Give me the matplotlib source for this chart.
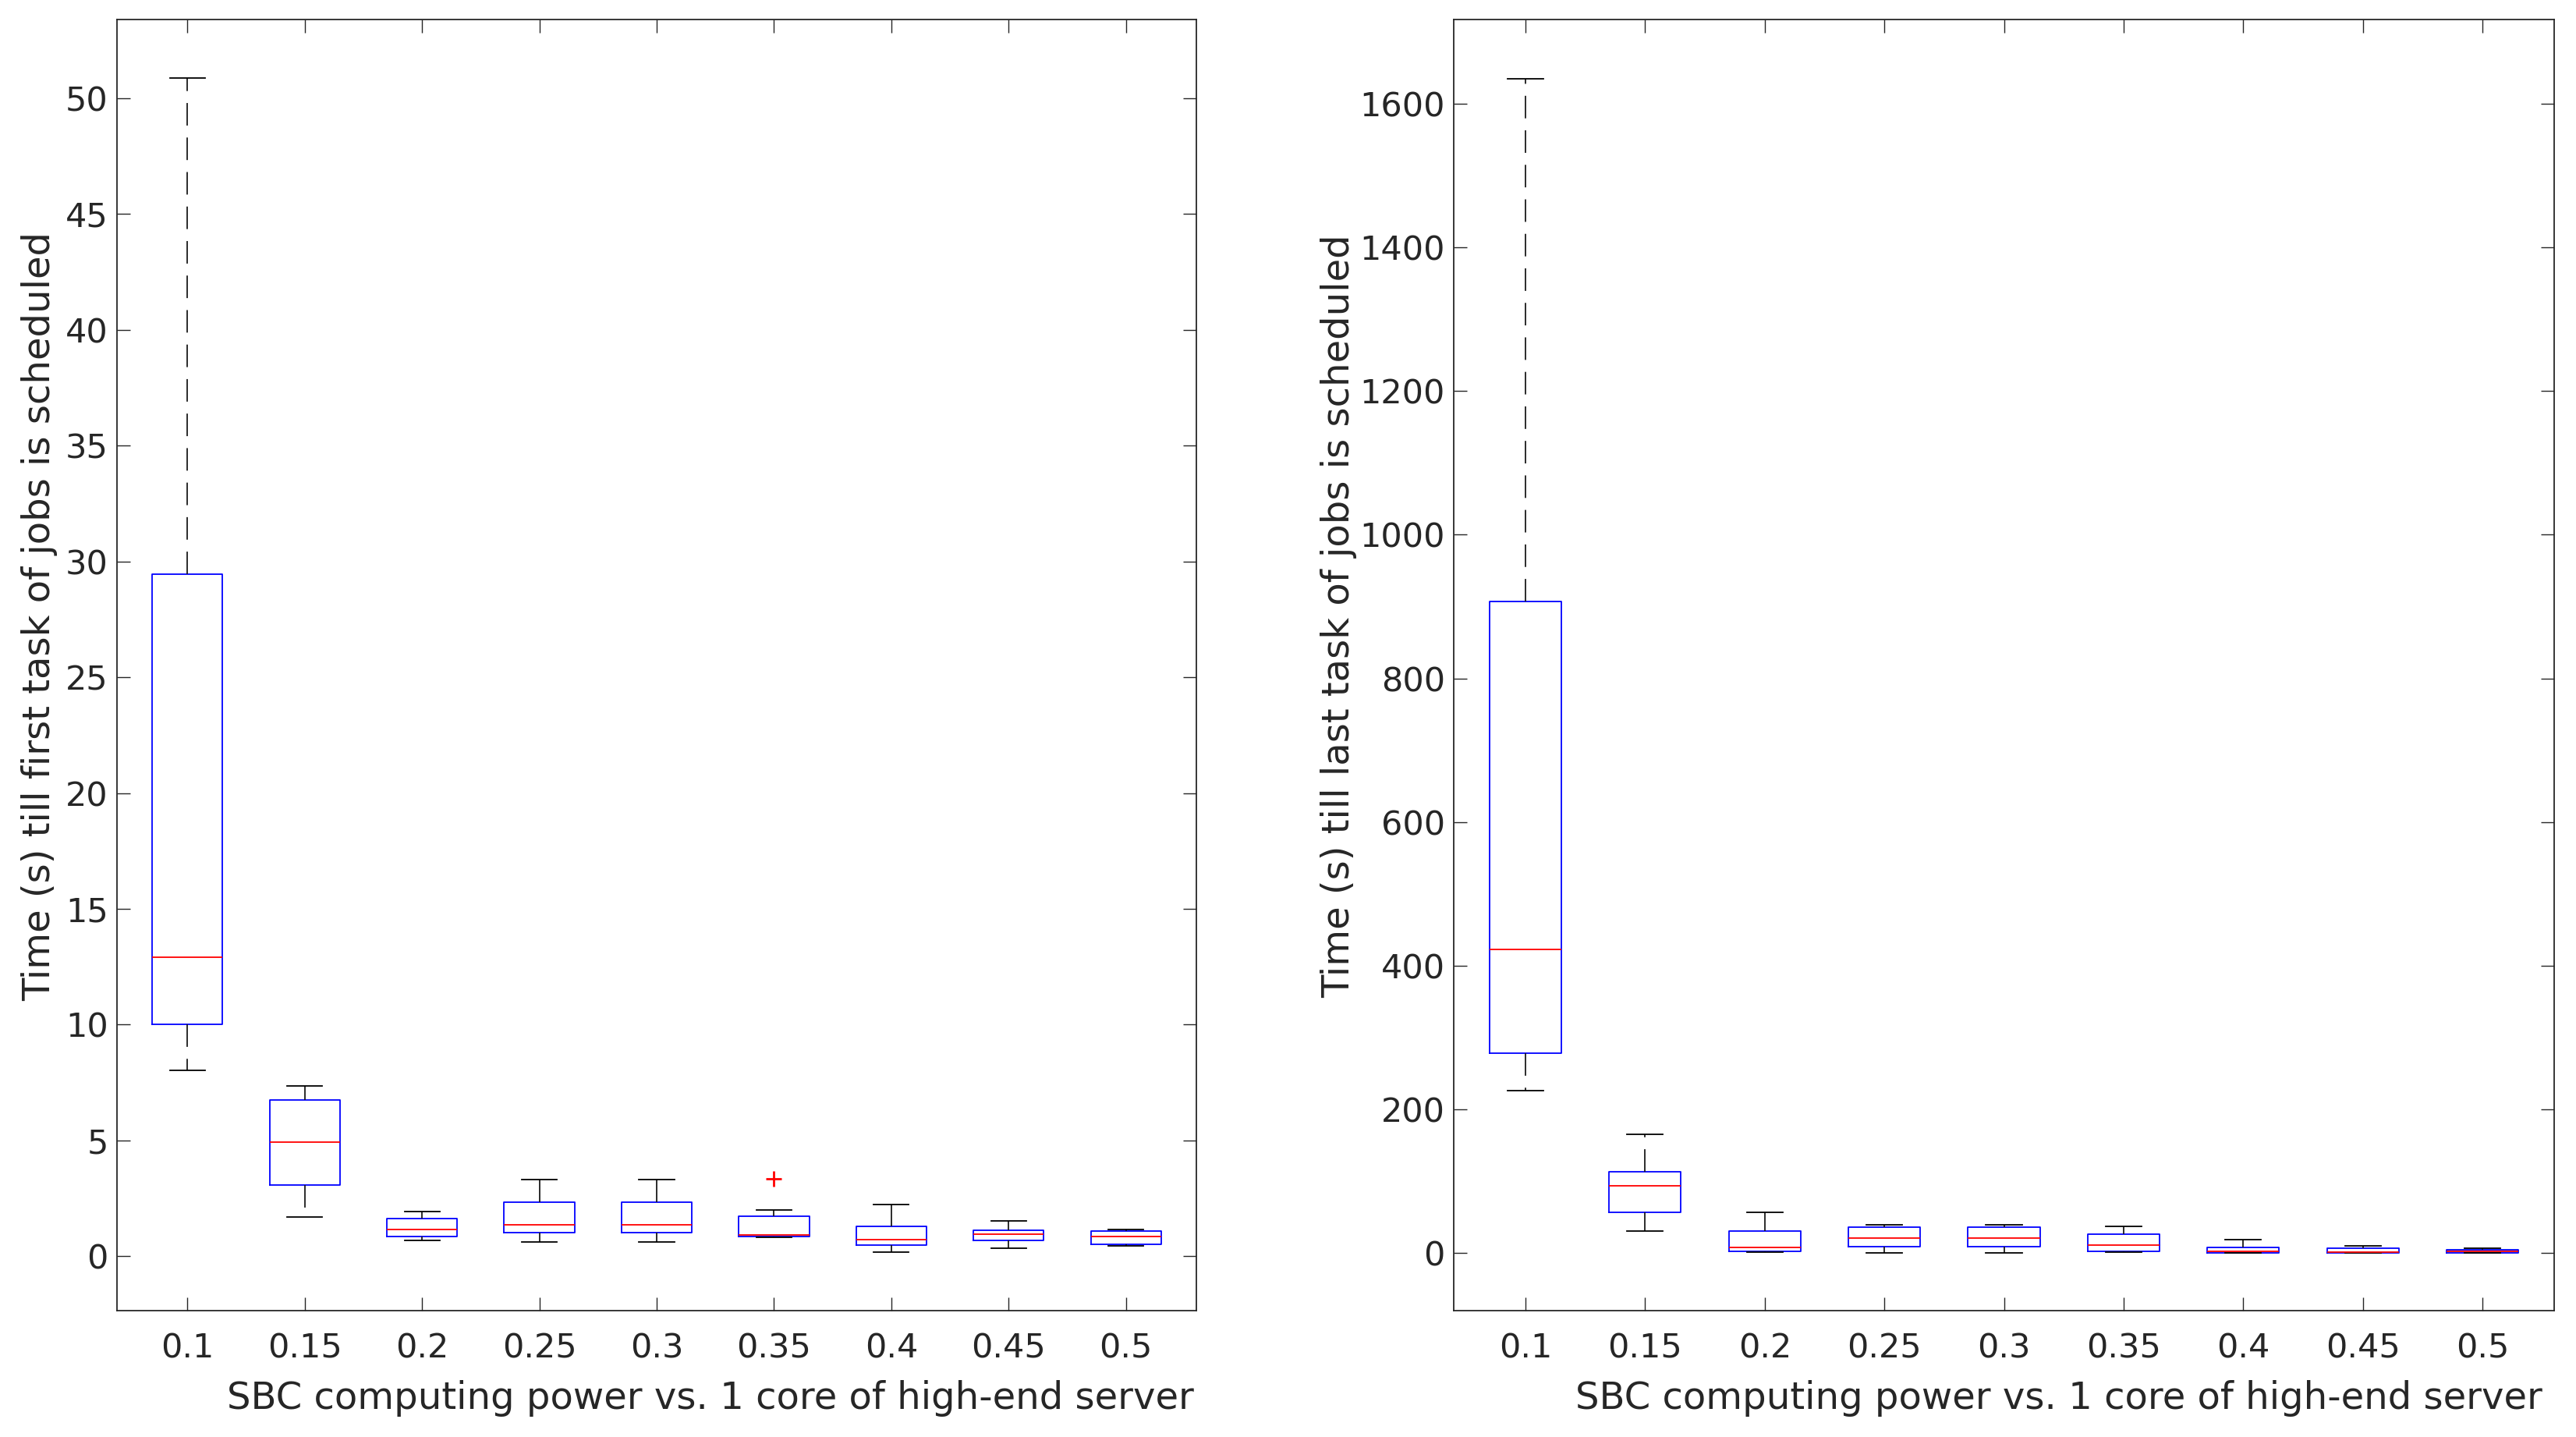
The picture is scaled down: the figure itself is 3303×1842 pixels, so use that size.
import matplotlib
matplotlib.use("Agg")
import matplotlib.pyplot as plt

plt.rcParams.update({
    "font.family": "DejaVu Sans",
    "font.size": 30,
})

TXT = (0.15, 0.15, 0.15)

# -------- data --------
power = ["0.1", "0.15", "0.2", "0.25", "0.3", "0.35", "0.4", "0.45", "0.5"]

# first task scheduled (s)
first_whislo = [8.02, 1.69, 0.67, 0.62, 0.62, 0.81, 0.17, 0.33, 0.44]
first_q1 = [10.02, 3.08, 0.85, 1.02, 1.02, 0.85, 0.48, 0.67, 0.52]
first_med = [12.92, 4.92, 1.16, 1.35, 1.35, 0.91, 0.73, 0.94, 0.85]
first_q3 = [29.44, 6.73, 1.63, 2.34, 2.34, 1.74, 1.30, 1.12, 1.10]
first_whishi = [50.89, 7.36, 1.94, 3.30, 3.30, 1.99, 2.24, 1.54, 1.15]
first_fliers = [[], [], [], [], [], [3.34], [], [], []]

# last task scheduled (s)
last_whislo = [226.0, 30.7, 1.1, 0.4, 0.4, 1.1, 0.0, 0.0, 0.0]
last_q1 = [277.8, 57.1, 2.2, 9.0, 9.0, 2.2, 0.4, 0.7, 0.7]
last_med = [423.2, 93.7, 8.0, 21.0, 21.0, 10.8, 2.2, 1.8, 2.2]
last_q3 = [906.5, 113.6, 31.1, 36.2, 36.2, 26.4, 8.0, 6.9, 4.7]
last_whishi = [1635.0, 164.9, 56.4, 39.8, 39.8, 37.3, 18.8, 10.5, 6.5]
last_fliers = [[], [], [], [], [], [], [], [], []]


def make_stats(lo, q1, med, q3, hi, fl):
    return [dict(whislo=a, q1=b, med=c, q3=d, whishi=e, fliers=f)
            for a, b, c, d, e, f in zip(lo, q1, med, q3, hi, fl)]


def draw_box(ax, stats, ylim, yticks, ylabel, ylabel_x):
    lw = 1.3
    ax.bxp(
        stats,
        positions=range(1, len(stats) + 1),
        widths=0.6,
        boxprops=dict(color="blue", linewidth=lw),
        medianprops=dict(color="red", linewidth=lw),
        whiskerprops=dict(color=(0.1, 0.1, 0.1), linewidth=lw,
                          linestyle=(0, (16, 8.5))),
        capprops=dict(color="black", linewidth=lw),
        flierprops=dict(marker="+", markeredgecolor="red",
                        markersize=14, markeredgewidth=2),
    )
    ax.set_xlim(0.4, len(stats) + 0.6)
    ax.set_ylim(*ylim)
    ax.set_yticks(yticks)
    ax.set_xticks(range(1, len(stats) + 1))
    ax.set_xticklabels(power)

    for sp in ax.spines.values():
        sp.set_color(TXT)
        sp.set_linewidth(1.3)
    ax.tick_params(axis="both", direction="in", length=12, width=1.0,
                   colors=TXT, labelcolor=TXT, labelsize=31,
                   top=True, right=True)
    ax.tick_params(axis="x", pad=20)
    ax.tick_params(axis="y", pad=8)

    ax.set_xlabel("SBC computing power vs. 1 core of high-end server",
                  color=TXT, va="center", ha="center", fontsize=34.7)
    ax.xaxis.set_label_coords(0.55, -0.068)
    ax.set_ylabel(ylabel, color=TXT, va="center", ha="center", fontsize=34.7)
    ax.yaxis.set_label_coords(ylabel_x, 0.538)


fig = plt.figure(figsize=(33.03, 18.42), dpi=100)
ax1 = fig.add_axes([150 / 3303, 162 / 1842, 1384 / 3303, 1655 / 1842])
ax2 = fig.add_axes([1864 / 3303, 162 / 1842, 1411 / 3303, 1655 / 1842])

draw_box(ax1,
         make_stats(first_whislo, first_q1, first_med, first_q3,
                    first_whishi, first_fliers),
         (-2.35, 53.4), range(0, 51, 5),
         "Time (s) till first task of jobs is scheduled", -0.072)

draw_box(ax2,
         make_stats(last_whislo, last_q1, last_med, last_q3,
                    last_whishi, last_fliers),
         (-80, 1717), range(0, 1601, 200),
         "Time (s) till last task of jobs is scheduled", -0.1045)

fig.savefig("out.png", dpi=100)
